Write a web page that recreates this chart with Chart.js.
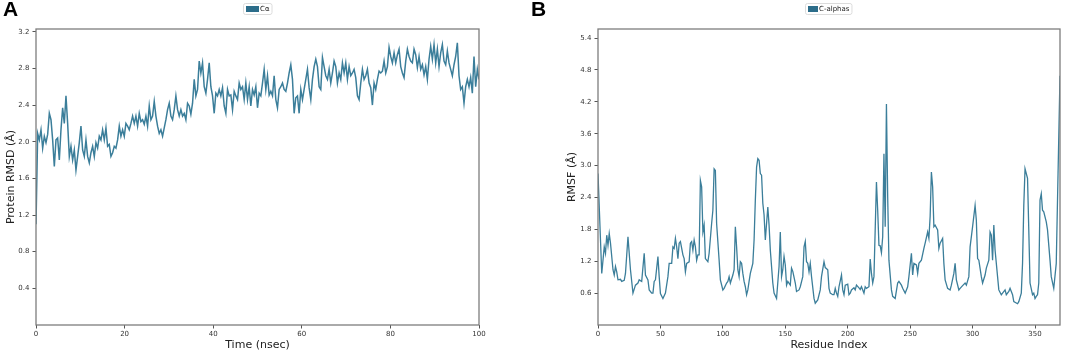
<!DOCTYPE html>
<html>
<head>
<meta charset="utf-8">
<script src="https://cdn.jsdelivr.net/npm/chart.js@4.4.0/dist/chart.umd.min.js"></script>
<style>
  html, body { margin: 0; padding: 0; background: #fff; }
  body { width: 1072px; height: 354px; position: relative; overflow: hidden; }
  .panel { position: absolute; top: 0; width: 536px; height: 354px; }
  .tag { position: absolute; top: -3px; font-family: "Liberation Sans", Arial, sans-serif; font-weight: bold; font-size: 21px; color: #000; }
</style>
</head>
<body>
<div class="panel" style="left:0"><canvas id="rmsd-chart" width="536" height="354"></canvas></div>
<div class="panel" style="left:536px"><canvas id="rmsf-chart" width="536" height="354"></canvas></div>
<div class="tag" style="left:3px">A</div>
<div class="tag" style="left:531px">B</div>

<script>
// --- panel A : protein RMSD over the trajectory ---
var FRAME_NS = 100 / 266; // sampling step of the trace
var rmsd = [
  1.10,
  2.09, 2.02, 2.13, 1.93, 2.06, 1.99, 2.08, 2.31, 2.24, 2.02,
  1.73, 2.02, 2.04, 1.80, 2.13, 2.37, 2.20, 2.50, 2.20, 1.84,
  1.95, 1.80, 1.91, 1.69, 1.84, 1.99, 2.17, 1.91, 1.84, 2.02,
  1.84, 1.77, 1.88, 1.95, 1.84, 1.99, 1.93, 2.06, 2.02, 2.13,
  2.02, 2.15, 1.95, 1.97, 1.84, 1.88, 1.95, 1.93, 2.02, 2.17,
  2.06, 2.13, 2.06, 2.20, 2.17, 2.13, 2.20, 2.28, 2.20, 2.28,
  2.17, 2.31, 2.22, 2.24, 2.19, 2.28, 2.17, 2.39, 2.24, 2.28,
  2.44, 2.28, 2.17, 2.09, 2.13, 2.06, 2.15, 2.24, 2.35, 2.42,
  2.28, 2.24, 2.35, 2.50, 2.35, 2.28, 2.35, 2.28, 2.31, 2.24,
  2.42, 2.39, 2.30, 2.42, 2.68, 2.50, 2.57, 2.88, 2.75, 2.86,
  2.60, 2.53, 2.68, 2.86, 2.60, 2.50, 2.31, 2.53, 2.50, 2.57,
  2.50, 2.59, 2.39, 2.31, 2.57, 2.50, 2.51, 2.35, 2.55, 2.50,
  2.46, 2.64, 2.57, 2.60, 2.46, 2.64, 2.46, 2.60, 2.39, 2.57,
  2.51, 2.60, 2.37, 2.53,
  2.50, 2.64, 2.79, 2.57, 2.72, 2.51, 2.55, 2.50, 2.72, 2.46,
  2.37, 2.57, 2.60, 2.64, 2.57, 2.55, 2.64, 2.75, 2.84, 2.68,
  2.31, 2.48, 2.50, 2.31, 2.57, 2.46, 2.57, 2.68, 2.79, 2.59,
  2.46, 2.68, 2.82, 2.90, 2.82, 2.60, 2.57, 2.92, 2.82, 2.72,
  2.68, 2.79, 2.64, 2.75, 2.88, 2.82, 2.64, 2.75, 2.68, 2.86,
  2.75, 2.86, 2.68, 2.82, 2.72, 2.75, 2.79, 2.70, 2.50, 2.46,
  2.64, 2.79, 2.68, 2.72, 2.79, 2.64, 2.59, 2.40, 2.64, 2.57,
  2.68, 2.77, 2.75, 2.77, 2.88, 2.75, 2.82, 3.03, 2.93, 2.86,
  2.97, 2.86, 2.95, 3.01, 2.82, 2.75, 2.70, 2.88, 3.01, 2.93,
  2.88, 2.86, 3.01, 2.95, 2.81, 2.93, 2.79, 2.84, 2.73, 2.82,
  2.68, 2.90, 3.04, 2.90, 3.06, 2.86, 3.01, 2.82, 2.97, 3.06,
  2.88, 2.84, 2.99, 2.86, 2.79, 2.72, 2.84, 2.93, 3.08, 2.72,
  2.57, 2.60, 2.42, 2.60, 2.68, 2.60, 2.70, 2.53, 2.93, 2.60,
  2.79, 2.68
];
var rmsdTime = rmsd.map(function (_, i) { return i * FRAME_NS; });
var timeTicks = [0, 20, 40, 60, 80, 100];
var rmsdTicks = [0.4, 0.8, 1.2, 1.6, 2.0, 2.4, 2.8, 3.2];

// --- panel B : per-residue RMSF of the C-alphas ---
var residues = [
  0, 3, 5, 6, 7, 8, 9, 10, 12, 13, 14, 15, 16, 18, 19, 21, 22, 24, 26, 28,
  30, 32, 33, 35, 37, 38, 40, 41, 43, 44, 45, 46, 48, 49, 50, 52, 54, 56, 57, 59,
  60, 61, 62, 63, 64, 65, 66, 68, 69, 70, 71, 73, 74, 75, 76, 77, 78, 79, 80, 81,
  82, 83, 84, 85, 86, 88, 89, 91, 92, 93, 94, 95, 97, 98, 100, 101, 103, 104, 105, 106,
  108, 109, 110, 111, 112, 113, 114, 115, 116, 117, 118, 119, 120, 121, 122, 124, 125, 126, 127, 128,
  129, 130, 131, 132, 133, 134, 135, 136, 137, 138, 140, 141, 143, 145, 146, 147, 148, 149, 150, 151,
  152, 154, 155, 156, 158, 159, 161, 162, 164, 165, 166, 167, 168, 169, 170, 171, 173, 174, 176, 178,
  179, 181, 182, 184, 185, 186, 188, 189, 190, 191, 192, 193, 195, 196, 197, 198, 200, 201, 202, 203,
  205, 206, 207, 209, 210, 211, 213, 214, 215, 217, 218, 219, 220, 221, 223, 224, 225, 226, 227, 228,
  229, 230, 231, 232, 233, 235, 236, 238, 240, 241, 243, 244, 246, 248, 249, 251, 252, 253, 255, 256,
  257, 259, 261, 262, 264, 265, 266, 267, 268, 269, 270, 272, 273, 274, 276, 277, 278, 280, 282, 283,
  285, 286, 287, 289, 290, 292, 294, 295, 297, 298, 300, 302, 303, 304, 305, 307, 308, 310, 311, 313,
  314, 315, 316, 317, 318, 320, 321, 323, 324, 326, 327, 329, 330, 332, 333, 336, 337, 339, 340, 341,
  342, 344, 345, 346, 348, 349, 350, 351, 352, 353, 354, 355, 356, 357, 359, 360, 362, 363, 365, 367,
  370
];
var rmsf = [
  2.85, 0.97, 1.47, 1.35, 1.69, 1.50, 1.72, 1.54, 1.04, 0.94, 1.10, 1.00, 0.85, 0.86, 0.82, 0.84, 0.97, 1.66, 1.04, 0.60,
  0.75, 0.79, 0.85, 0.82, 1.35, 0.94, 0.85, 0.66, 0.60, 0.60, 0.82, 0.85, 1.29, 0.91, 0.59, 0.50, 0.60, 0.91, 1.16, 1.16,
  1.47, 1.44, 1.63, 1.47, 1.25, 1.54, 1.57, 1.32, 1.25, 1.00, 1.16, 1.19, 1.54, 1.57, 1.41, 1.60, 1.47, 1.22, 1.32, 1.32,
  2.72, 2.60, 1.75, 1.88, 1.25, 1.19, 1.35, 1.91, 2.16, 2.94, 2.91, 1.91, 1.22, 0.85, 0.66, 0.69, 0.79, 0.82, 0.91, 0.79,
  0.94, 1.04, 1.85, 1.47, 1.04, 0.91, 1.19, 1.16, 0.97, 0.82, 0.72, 0.57, 0.66, 0.82, 0.97, 1.16, 1.60, 2.35, 2.97, 3.13,
  3.10, 2.85, 2.82, 2.29, 2.07, 1.60, 1.91, 2.22, 1.88, 1.41, 0.79, 0.60, 0.50, 1.10, 1.75, 0.91, 1.04, 1.29, 1.13, 0.75,
  0.82, 0.75, 1.07, 1.01, 0.79, 0.63, 0.66, 0.72, 0.91, 1.47, 1.57, 1.19, 1.16, 1.00, 1.16, 0.91, 0.50, 0.41, 0.47, 0.66,
  0.91, 1.19, 1.08, 1.04, 0.69, 0.60, 0.57, 0.57, 0.69, 0.60, 0.54, 0.72, 0.94, 0.66, 0.57, 0.75, 0.77, 0.57, 0.60, 0.66,
  0.70, 0.66, 0.75, 0.70, 0.67, 0.72, 0.60, 0.72, 0.69, 0.72, 1.24, 0.97, 0.79, 0.91, 2.69, 2.16, 1.50, 1.49, 1.36, 1.66,
  3.22, 1.85, 4.16, 2.41, 1.22, 0.66, 0.54, 0.50, 0.79, 0.82, 0.75, 0.69, 0.60, 0.72, 0.91, 1.35, 0.94, 1.16, 1.13, 0.97,
  1.16, 1.22, 1.44, 1.54, 1.75, 1.63, 2.04, 2.88, 2.60, 1.85, 1.88, 1.79, 1.44, 1.54, 1.63, 1.16, 0.85, 0.69, 0.66, 0.75,
  0.97, 1.16, 0.85, 0.66, 0.69, 0.74, 0.79, 0.75, 0.91, 1.47, 1.85, 2.25, 1.97, 1.25, 1.22, 0.91, 0.79, 0.94, 1.07, 1.22,
  1.75, 1.69, 1.22, 1.88, 1.41, 0.91, 0.66, 0.57, 0.60, 0.66, 0.57, 0.63, 0.69, 0.57, 0.44, 0.40, 0.44, 0.60, 1.16, 2.25,
  2.94, 2.76, 1.79, 0.79, 0.57, 0.60, 0.50, 0.54, 0.57, 0.79, 2.35, 2.47, 2.16, 2.13, 1.94, 1.79, 1.22, 0.91, 0.69, 1.16,
  4.69
];
var residueTicks = [0, 50, 100, 150, 200, 250, 300, 350];
var rmsfTicks = [0.6, 1.2, 1.8, 2.4, 3.0, 3.6, 4.2, 4.8, 5.4];

var LINE_COLOR = "#3b7e9a";

Chart.defaults.font.family = '"DejaVu Sans", sans-serif';
Chart.defaults.color = "#333";

// matplotlib-like frame around the plotting area
var frameBox = {
  id: "frameBox",
  afterDatasetsDraw: function (chart) {
    var a = chart.chartArea, ctx = chart.ctx;
    ctx.save();
    ctx.strokeStyle = "#7d7d7d";
    ctx.lineWidth = 1.3;
    ctx.strokeRect(a.left, a.top, a.right - a.left, a.bottom - a.top);
    ctx.restore();
  }
};

// small legend box centred over the axes
var miniLegend = {
  id: "miniLegend",
  afterDraw: function (chart, args, opts) {
    var a = chart.chartArea, ctx = chart.ctx;
    ctx.save();
    ctx.font = '7px "DejaVu Sans", sans-serif';
    var tw = ctx.measureText(opts.text).width;
    var w = opts.boxWidth + 1 + tw;
    var x0 = Math.round((a.left + a.right) / 2 - w / 2);
    var y = 9;
    ctx.fillStyle = "rgba(255,255,255,0.85)";
    ctx.strokeStyle = "#dcdcdc";
    ctx.lineWidth = 1;
    ctx.beginPath();
    ctx.roundRect(x0 - 2.5, y - 5.5, w + 5, 11, 2);
    ctx.fill();
    ctx.stroke();
    ctx.fillStyle = opts.color;
    ctx.fillRect(x0, y - 3, opts.boxWidth, 6);
    ctx.fillStyle = "#222";
    ctx.textBaseline = "middle";
    ctx.fillText(opts.text, x0 + opts.boxWidth + 1, y + 0.5);
    ctx.restore();
  }
};

function axisX(min, max, tickValues, title) {
  return {
    type: "linear",
    min: min,
    max: max,
    afterBuildTicks: function (scale) {
      scale.ticks = tickValues.map(function (v) { return { value: v }; });
    },
    afterFit: function (scale) { scale.height = 29; },
    grid: { display: true, drawOnChartArea: false, drawTicks: true, tickLength: 3.5, color: "#555" },
    border: { display: false },
    ticks: { font: { size: 7 }, padding: 1, maxRotation: 0, color: "#333" },
    title: { display: true, text: title, font: { size: 11 }, color: "#222", padding: { top: 0, bottom: 2 } }
  };
}

function axisY(min, max, tickValues, title, width) {
  return {
    type: "linear",
    min: min,
    max: max,
    afterBuildTicks: function (scale) {
      scale.ticks = tickValues.map(function (v) { return { value: v }; });
    },
    afterFit: function (scale) { scale.width = width; },
    grid: { display: true, drawOnChartArea: false, drawTicks: true, tickLength: 3.5, color: "#555" },
    border: { display: false },
    ticks: {
      font: { size: 7 },
      padding: 3,
      color: "#333",
      callback: function (v) { return Number(v).toFixed(1); }
    },
    title: { display: true, text: title, font: { size: 11 }, color: "#222", padding: { top: 4, bottom: 0 } }
  };
}

function baseOptions(padding, xs, ys, legendText, legendBox) {
  return {
    responsive: false,
    animation: false,
    layout: { padding: padding },
    plugins: {
      legend: { display: false },
      tooltip: { enabled: false },
      miniLegend: { text: legendText, color: "#2c6d8a", boxWidth: legendBox }
    },
    scales: { x: xs, y: ys }
  };
}

var rmsdCtx = document.getElementById("rmsd-chart").getContext("2d");
new Chart(rmsdCtx, {
  type: "line",
  data: {
    datasets: [{
      label: "Cα",
      data: rmsdTime.map(function (t, i) { return { x: t, y: rmsd[i] }; }),
      borderColor: LINE_COLOR,
      borderWidth: 1.5,
      pointRadius: 0,
      tension: 0
    }]
  },
  options: baseOptions(
    { left: 1, right: 57, top: 29, bottom: 0 },
    axisX(0, 100, timeTicks, "Time (nsec)"),
    axisY(0, 3.23, rmsdTicks, "Protein RMSD (Å)", 35),
    "Cα", 13
  ),
  plugins: [frameBox, miniLegend]
});

var rmsfCtx = document.getElementById("rmsf-chart").getContext("2d");
new Chart(rmsfCtx, {
  type: "line",
  data: {
    datasets: [{
      label: "C-alphas",
      data: residues.map(function (r, i) { return { x: r, y: rmsf[i] }; }),
      borderColor: LINE_COLOR,
      borderWidth: 1.3,
      pointRadius: 0,
      tension: 0
    }]
  },
  options: baseOptions(
    { left: 26, right: 12, top: 29, bottom: 0 },
    axisX(0, 370, residueTicks, "Residue Index"),
    axisY(0, 5.57, rmsfTicks, "RMSF (Å)", 36),
    "C-alphas", 10
  ),
  plugins: [frameBox, miniLegend]
});
</script>
</body>
</html>
